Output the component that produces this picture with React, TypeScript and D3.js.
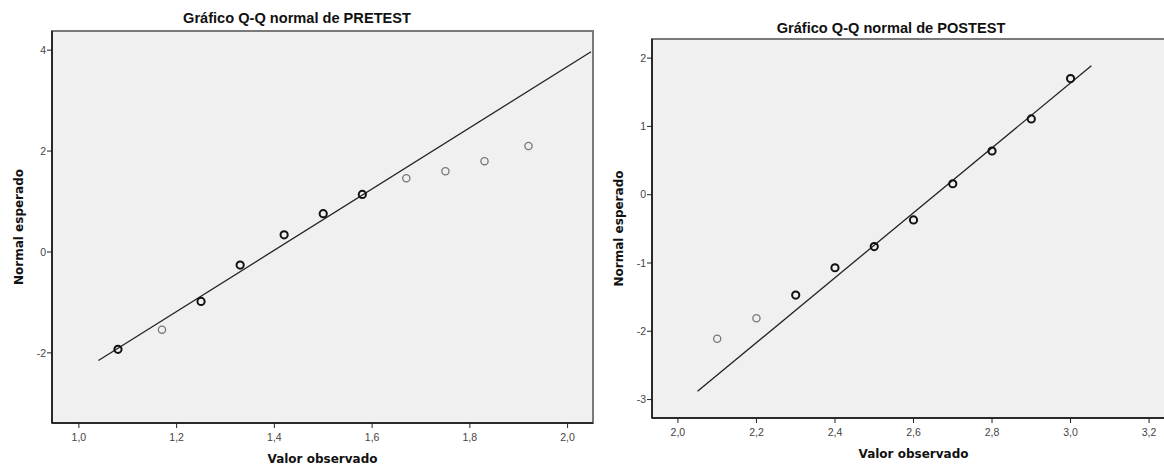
import React from "react";
import * as d3 from "d3";

// PRETEST: observed value, expected normal, number of tied cases
const preObserved = [1.08, 1.17, 1.25, 1.33, 1.42, 1.5, 1.58, 1.67, 1.75, 1.83, 1.92];
const preExpected = [-1.93, -1.54, -0.98, -0.26, 0.34, 0.76, 1.14, 1.46, 1.6, 1.8, 2.1];
const preTies = [2, 1, 2, 3, 2, 2, 2, 1, 1, 1, 1];
const preLine = [[1.04, -2.15], [2.048, 3.97]];
const preXTicks = [1.0, 1.2, 1.4, 1.6, 1.8, 2.0];
const preYTicks = [-2, 0, 2, 4];

// POSTEST
const postObserved = [2.1, 2.2, 2.3, 2.4, 2.5, 2.6, 2.7, 2.8, 2.9, 3.0];
const postExpected = [-2.11, -1.81, -1.47, -1.07, -0.76, -0.37, 0.16, 0.64, 1.11, 1.7];
const postTies = [1, 1, 2, 2, 2, 2, 2, 2, 2, 2];
const postLine = [[2.05, -2.88], [3.053, 1.89]];
const postXTicks = [2.0, 2.2, 2.4, 2.6, 2.8, 3.0, 3.2];
const postYTicks = [-3, -2, -1, 0, 1, 2];

const fmt = (v: number, dec: number) => v.toFixed(dec).replace(".", ",");

type PanelProps = {
  title: string;
  titleX: number;
  titleY: number;
  box: { x0: number; x1: number; y0: number; y1: number };
  xDomain: [number, number];
  yDomain: [number, number];
  obs: number[];
  exp: number[];
  ties: number[];
  line: number[][];
  xTicks: number[];
  yTicks: number[];
  yLabelX: number;
};

function QQPanel(p: PanelProps) {
  const { box } = p;
  const x = d3.scaleLinear().domain(p.xDomain).range([box.x0, box.x1]);
  const y = d3.scaleLinear().domain(p.yDomain).range([box.y1, box.y0]);
  const lineGen = d3
    .line<number[]>()
    .x((d) => x(d[0]))
    .y((d) => y(d[1]));
  const cx = (box.x0 + box.x1) / 2;
  const cy = (box.y0 + box.y1) / 2;
  const tickFont = "'Liberation Sans', Arial, sans-serif";
  const labelFont = "'DejaVu Sans', sans-serif";

  return (
    <g>
      <text
        x={p.titleX}
        y={p.titleY}
        textAnchor="middle"
        fontFamily={tickFont}
        fontWeight="bold"
        fontSize={14.6}
        fill="#111"
      >
        {p.title}
      </text>
      <rect
        x={box.x0}
        y={box.y0}
        width={box.x1 - box.x0}
        height={box.y1 - box.y0}
        fill="#f0f0f0"
        stroke="#7a7a7a"
        strokeWidth={2}
      />
      {/* left and bottom axis lines */}
      <line x1={box.x0} x2={box.x0} y1={box.y0} y2={box.y1} stroke="#111" strokeWidth={1.5} />
      <line x1={box.x0} x2={box.x1} y1={box.y1} y2={box.y1} stroke="#111" strokeWidth={1.5} />

      {p.yTicks.map((t) => (
        <g key={"y" + t}>
          <line x1={box.x0 - 5} x2={box.x0} y1={y(t)} y2={y(t)} stroke="#222" strokeWidth={1} />
          <text
            x={box.x0 - 6}
            y={y(t)}
            dy="0.35em"
            textAnchor="end"
            fontFamily={tickFont}
            fontSize={10.5}
            fill="#444"
          >
            {t}
          </text>
        </g>
      ))}
      {p.xTicks.map((t) => (
        <g key={"x" + t}>
          <line x1={x(t)} x2={x(t)} y1={box.y1} y2={box.y1 + 5} stroke="#222" strokeWidth={1} />
          <text
            x={x(t)}
            y={box.y1 + 18}
            textAnchor="middle"
            fontFamily={tickFont}
            fontSize={10.5}
            fill="#444"
          >
            {fmt(t, 1)}
          </text>
        </g>
      ))}

      <path d={lineGen(p.line) || ""} fill="none" stroke="#222" strokeWidth={1.3} />

      {p.obs.map((o, i) => (
        <circle
          key={"pt" + i}
          cx={x(o)}
          cy={y(p.exp[i])}
          r={3.6}
          fill="none"
          stroke={p.ties[i] > 1 ? "#111" : "#777"}
          strokeWidth={p.ties[i] > 1 ? 2 : 1.3}
        />
      ))}

      <text
        x={cx}
        y={box.y1 + 40}
        textAnchor="middle"
        fontFamily={labelFont}
        fontWeight="bold"
        fontSize={12}
        fill="#111"
      >
        Valor observado
      </text>
      <text
        transform={`translate(${p.yLabelX},${cy}) rotate(-90)`}
        textAnchor="middle"
        dy="0.35em"
        fontFamily={labelFont}
        fontWeight="bold"
        fontSize={12}
        fill="#111"
      >
        Normal esperado
      </text>
    </g>
  );
}

export default function App() {
  return (
    <svg
      width={1164}
      height={467}
      style={{ position: "absolute", left: 0, top: 0, background: "#fff" }}
    >
      <QQPanel
        title="Gráfico Q-Q normal de PRETEST"
        titleX={297}
        titleY={23}
        box={{ x0: 52, x1: 593, y0: 31, y1: 423 }}
        xDomain={[0.945, 2.052]}
        yDomain={[-3.39, 4.38]}
        obs={preObserved}
        exp={preExpected}
        ties={preTies}
        line={preLine}
        xTicks={preXTicks}
        yTicks={preYTicks}
        yLabelX={19}
      />
      <QQPanel
        title="Gráfico Q-Q normal de POSTEST"
        titleX={891}
        titleY={33}
        box={{ x0: 652, x1: 1175, y0: 39, y1: 418 }}
        xDomain={[1.934, 3.266]}
        yDomain={[-3.27, 2.28]}
        obs={postObserved}
        exp={postExpected}
        ties={postTies}
        line={postLine}
        xTicks={postXTicks}
        yTicks={postYTicks}
        yLabelX={619}
      />
    </svg>
  );
}
